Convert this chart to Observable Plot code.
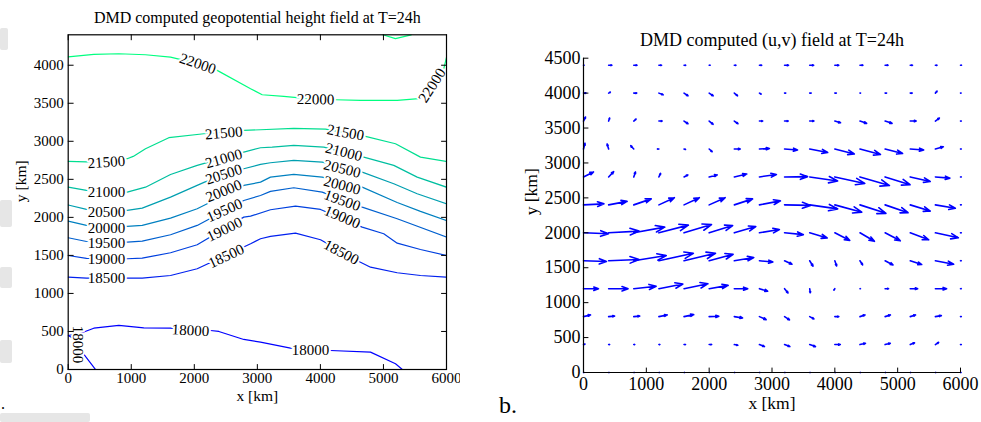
<!DOCTYPE html>
<html><head><meta charset="utf-8">
<script src="https://cdn.jsdelivr.net/npm/d3@7"></script>
<script src="https://cdn.jsdelivr.net/npm/@observablehq/plot@0.6"></script>
<style>
html,body{margin:0;padding:0;background:#fff;}
#wrap{position:relative;width:981px;height:422px;overflow:hidden;background:#fff;font-family:"Liberation Serif",serif;}
.panel{position:absolute;top:0;}
.deco{position:absolute;background:#e6e6e6;border-radius:2px;}
#blabel{position:absolute;left:499px;top:393px;font-size:24px;line-height:24px;color:#000;}
#dot{position:absolute;left:1px;top:396px;font-size:16px;line-height:16px;color:#000;}
</style></head><body>
<div id="wrap">
  <div class="deco" style="left:0;top:28px;width:8px;height:22px"></div>
  <div class="deco" style="left:0;top:200px;width:12px;height:27px"></div>
  <div class="deco" style="left:0;top:267px;width:12px;height:21px"></div>
  <div class="deco" style="left:0;top:340px;width:12px;height:23px"></div>
  <div class="deco" style="left:0;top:413px;width:90px;height:9px"></div>
  <div id="dot">.</div>
  <div id="left" class="panel" style="left:0"></div>
  <div id="right" class="panel" style="left:490px"></div>
  <div id="blabel">b.</div>
</div>
<script>
// ---------- Panel a: geopotential height contours (x km, y km) ----------
const levels = [18000, 18500, 19000, 19500, 20000, 20500, 21000, 21500, 22000];
const lvl22000a = [[0,4110],[406,4142],[803,4151],[1226,4138],[1623,4107],[2055,4020],[2363,3932],[2893,3691],[3077,3612],[3419,3590],[3922,3550],[4240,3546],[4636,3537],[5218,3537],[5561,3560],[5773,3735],[5957,3954],[6000,4103]];
const lvl22000b = [[4990,4400],[5190,4350],[5440,4400]];
const lvl21500 = [[0,2735],[290,2729],[936,2771],[1031,2801],[1226,2902],[1596,3047],[2151,3099],[2785,3143],[3050,3152],[3578,3169],[4081,3160],[4715,3064],[5191,2968],[5587,2792],[6000,2735]];
const lvl21000 = [[0,2397],[290,2354],[936,2332],[1226,2397],[1623,2564],[2046,2683],[2785,2858],[3050,2915],[3235,2923],[3578,2946],[4054,2923],[4688,2792],[5164,2683],[5535,2529],[6000,2397]];
const lvl20500 = [[0,2163],[290,2104],[936,2091],[1174,2121],[1623,2266],[2162,2463],[2785,2639],[3050,2696],[3208,2718],[3578,2748],[4028,2726],[4663,2595],[5164,2442],[5535,2311],[6000,2179]];
const lvl20000 = [[0,1950],[290,1894],[936,1881],[1174,1894],[1623,1990],[2046,2113],[2785,2420],[3050,2463],[3208,2529],[3578,2564],[4028,2529],[4663,2397],[5218,2196],[5587,2078],[6000,1959]];
const lvl19500 = [[0,1732],[290,1683],[936,1674],[1174,1687],[1623,1771],[2046,1894],[2785,2222],[3050,2288],[3208,2341],[3578,2389],[4028,2332],[4663,2134],[5218,1982],[6000,1740]];
const lvl19000 = [[0,1499],[290,1460],[936,1456],[1174,1464],[1623,1535],[2046,1640],[2785,2003],[2893,2016],[3208,2100],[3605,2147],[4002,2104],[4663,1871],[5005,1784],[5218,1661],[5587,1578],[6000,1499]];
const lvl18500 = [[0,1214],[290,1201],[936,1201],[1174,1201],[1623,1236],[2046,1324],[2893,1653],[3050,1719],[3208,1749],[3605,1792],[4002,1706],[4636,1411],[4795,1345],[5218,1272],[5587,1236],[6000,1214]];
const lvl18000a = [[0,447],[195,477],[406,543],[803,579],[1199,548],[1623,543],[1940,513],[2257,513],[2389,500],[2785,395],[3050,359],[3526,280],[3843,250],[4160,250],[4795,228],[5191,75],[5300,0]];
const lvl18000b = [[433,0],[222,227],[100,400],[0,447]];

const contourLines = [
  [22000, lvl22000a], [22000, lvl22000b], [21500, lvl21500], [21000, lvl21000],
  [20500, lvl20500], [20000, lvl20000], [19500, lvl19500], [19000, lvl19000],
  [18500, lvl18500], [18000, lvl18000a], [18000, lvl18000b]
];

// contour labels: level, x, y, angle
const labelLevel = [22000,22000,22000, 21500,21500,21500, 21000,21000,21000, 20500,20500,20500, 20000,20000,20000, 19500,19500,19500, 19000,19000,19000, 18500,18500,18500, 18000,18000,18000];
const labelX = [2055,3922,5773, 607,2468,4398, 607,2468,4371, 607,2468,4346, 607,2468,4346, 607,2479,4346, 607,2479,4346, 607,2506,4330, 155,1940,3843];
const labelY = [4020,3550,3735, 2726,3108,3114, 2328,2771,2858, 2069,2564,2639, 1854,2345,2420, 1657,2091,2222, 1447,1841,2003, 1197,1490,1542, 329,513,250];
const labelAngle = [19,1,-57, -4,-5,10, 0,-16,14, 0,-18,14, 0,-22,15, 0,-24,20, 0,-26,23, 0,-25,28, 90,3,0];

const xTicksA = [0,1000,2000,3000,4000,5000,6000];
const yTicksA = [0,500,1000,1500,2000,2500,3000,3500,4000];

// ---------- Panel b: (u,v) quiver field ----------
const quiverX = [0,400,800,1200,1600,2000,2400,2800,3200,3600,4000,4400,4800,5200,5600,6000];
const quiverY = [0,400,800,1200,1600,2000,2400,2800,3200,3600,4000,4400];
const u0    = [0.6,0.6,0.6,0.6,0.6,0.6,0.6,0.6,0.6,0.6,0.6,0.6,0.6,0.6,0.6,0.6];
const v0    = [0,0,0,0,0,0,0,0,0,0,0,0,0,0,0,0];
const u400  = [1.5,1,1,1,1.5,2.5,3.5,5,5.3,5.8,5.5,5.5,5.2,4.3,3.3,0.8];
const v400  = [0.5,0,0,0,0,0,-0.7,-2,-2,-2,0,1.3,1.3,1.7,2.2,0];
const u800  = [7,6,6,8.3,9.7,9.7,8.3,6.7,5,4.3,4,5,5.3,5.3,6,0.8];
const v800  = [1.7,0.5,0.5,1.7,2,0.3,-1.3,-3,-3.3,-2.3,0,1.7,1.7,1.7,1,0];
const u1200 = [15,19.5,22.5,24,24,19,13.5,8.2,3.5,0.6,-1,0.5,3.5,7.5,11.3,0.8];
const v1200 = [0,0,2.5,4.7,5,3.3,0,-2.5,-4.3,-4.2,-1.5,0,0,0,0,0];
const u1600 = [23,30.5,32.5,34.5,31.5,24,19.5,13.5,7.5,3.3,1.8,2.7,8,11.5,18.3,0.8];
const v1600 = [-0.8,1.3,5.2,7.5,7.5,6.5,3.2,-1.3,-3.5,-5.5,-5.3,-4.2,-4.2,-3.8,-3.5,0];
const u2000 = [25,30.5,31,29.5,27.5,23.5,21.5,20,18.8,17.5,15,14.5,15.2,18.5,23,0.8];
const v2000 = [-1,1.7,5.7,7.7,8.3,7.3,6.3,3.3,-1.8,-5.2,-7.7,-8.5,-8,-7,-5,0];
const u2400 = [20.5,18.5,17.5,15.5,15.3,16,18.3,21,26,28,27,26,23,20,20,0.8];
const v2400 = [1,3.5,6,7.2,7.2,7.2,6,4,-0.5,-4,-7.3,-8.5,-7.8,-6.2,-3.4,0];
const u2800 = [10,5,1.7,1.7,3.8,8,12.5,17,23,28,30,29.5,25,20,14.5,0.8];
const v2800 = [5,5.3,5,3.5,2,2,3,2.5,0.3,-4,-6.5,-8.6,-7.8,-4.6,-1.2,0];
const u3200 = [1.5,-1.5,-3,-1.5,1.5,3,6,10,13,18,19.5,20.5,17.5,13.5,8,0.8];
const v3200 = [5.7,5,3.3,0,-0.5,-2.7,0,0.5,-1,-3.5,-5,-5.5,-4.5,-1,2.3,0];
const u3600 = [2,1,2.3,3.3,4,4,3.7,3.3,3.7,4.3,5.7,6.7,7,6,4,0.8];
const v3600 = [4,3,2,0,-2.7,-3.3,-2.7,0,0,0,-1.7,-2.3,-2.3,0,3,0];
const u4000 = [2.5,1.7,3,4.3,4,4,3.3,1.7,1.2,1.5,1.5,0.6,1.5,2,1.7,0.6];
const v4000 = [0,1,0,-1.7,-2.7,-2.7,-2.7,-1,0,0,0,0,0,0,2,0];
const u4400 = [0.6,3.3,3.3,2.7,1.7,1,1.7,2.3,4,4,4,3,3,2.3,1.7,1];
const v4400 = [0,0,0,0,0,0,0,0,0,0,0,0,0,0,0,0];
const uRows = [u0,u400,u800,u1200,u1600,u2000,u2400,u2800,u3200,u3600,u4000,u4400];
const vRows = [v0,v400,v800,v1200,v1600,v2000,v2400,v2800,v3200,v3600,v4000,v4400];
const quiverScaleX = 15.9; // km per unit of u
const quiverScaleY = 14.3; // km per unit of v

const xTicksB = [0,1000,2000,3000,4000,5000,6000];
const yTicksB = [0,500,1000,1500,2000,2500,3000,3500,4000,4500];

// ---------- build tables ----------
const winter = d3.interpolateRgb("#0000ff", "#00ff80");
const levelColor = (lv) => winter((lv - 18000) / 4000);

const contourRows = [];
contourLines.forEach(([lv, pts], i) => pts.forEach(([x, y]) => contourRows.push({seg: i, level: lv, x, y})));
const labelRows = labelLevel.map((lv, i) => ({level: lv, x: labelX[i], y: labelY[i], angle: labelAngle[i]}));

const arrows = [];
quiverY.forEach((y, r) => quiverX.forEach((x, c) => arrows.push({x, y, u: uRows[r][c], v: vRows[r][c]})));

// inward tick marks drawn as short vectors anchored on the frame
const tickShape = {draw(context, l) { context.moveTo(0, 0); context.lineTo(0, -l); }};
const inTicks = (ticks, dim, side, len) => Plot.vector(ticks, {
  [dim]: d => d, frameAnchor: side, anchor: "start", length: len, shape: tickShape,
  rotate: side === "bottom" ? 0 : side === "top" ? 180 : side === "left" ? 90 : -90,
  stroke: "black", strokeWidth: 1
});

// ---------- Panel a ----------
const left = Plot.plot({
  width: 460, height: 422,
  marginLeft: 67.7, marginRight: 14, marginTop: 34.3, marginBottom: 53,
  style: {fontFamily: "Liberation Serif", fontSize: "15px", background: "transparent", color: "black"},
  x: {domain: [0, 6000]},
  y: {domain: [0, 4400]},
  color: {type: "identity"},
  marks: [
    Plot.line(contourRows, {x: "x", y: "y", z: "seg", stroke: d => levelColor(d.level), strokeWidth: 1.2, clip: true}),
    Plot.text(labelRows, {x: "x", y: "y", text: d => String(d.level), rotate: "angle", fill: "black", stroke: "white", strokeWidth: 4, fontSize: 15}),
    Plot.frame({stroke: "black", strokeWidth: 1.2}),
    Plot.axisX(xTicksA, {anchor: "bottom", tickSize: 0, tickPadding: 3, tickFormat: d => String(d), label: null, fontSize: 15}),
    Plot.axisY(yTicksA, {anchor: "left", tickSize: 0, tickPadding: 4.4, tickFormat: d => String(d), label: null, fontSize: 15}),
    inTicks(xTicksA, "x", "bottom", 5),
    inTicks(xTicksA, "x", "top", 5),
    inTicks(yTicksA, "y", "left", 5),
    inTicks(yTicksA, "y", "right", 5),
    Plot.text(["DMD computed geopotential height field at T=24h"], {frameAnchor: "top", lineAnchor: "bottom", dy: -11.6, fontSize: 16}),
    Plot.text(["x [km]"], {frameAnchor: "bottom", lineAnchor: "middle", dy: 27, fontSize: 15.5}),
    Plot.text(["y [km]"], {frameAnchor: "left", lineAnchor: "middle", rotate: -90, dx: -46.7, fontSize: 15.5})
  ]
});
document.getElementById("left").appendChild(left);

// ---------- Panel b ----------
const right = Plot.plot({
  width: 491, height: 422,
  marginLeft: 93, marginRight: 21, marginTop: 57.7, marginBottom: 50,
  style: {fontFamily: "Liberation Serif", fontSize: "18px", background: "transparent", color: "black"},
  x: {domain: [0, 6000]},
  y: {domain: [0, 4500]},
  marks: [
    Plot.arrow(arrows, {
      x1: "x", y1: "y",
      x2: d => d.x + d.u * quiverScaleX,
      y2: d => d.y + d.v * quiverScaleY,
      stroke: "#0000ff", strokeWidth: 1.6, headAngle: 40, headLength: 9
    }),
    Plot.ruleX([0], {stroke: "black", strokeWidth: 1.2}),
    Plot.ruleY([0], {stroke: "black", strokeWidth: 1.2}),
    Plot.axisX(xTicksB, {anchor: "bottom", tickSize: 0, tickPadding: 5, tickFormat: d => String(d), label: null, fontSize: 18}),
    Plot.axisY(yTicksB, {anchor: "left", tickSize: 0, tickPadding: 3, tickFormat: d => String(d), label: null, fontSize: 18}),
    inTicks(xTicksB, "x", "bottom", 4.5),
    inTicks(yTicksB, "y", "left", 4.5),
    Plot.text(["DMD computed (u,v) field at T=24h"], {frameAnchor: "top", lineAnchor: "bottom", dy: -12.7, fontSize: 18}),
    Plot.text(["x [km]"], {frameAnchor: "bottom", lineAnchor: "middle", dy: 31, fontSize: 17.5}),
    Plot.text(["y [km]"], {frameAnchor: "left", lineAnchor: "middle", rotate: -90, dx: -52, fontSize: 17.5})
  ]
});
document.getElementById("right").appendChild(right);
</script>
</body></html>
